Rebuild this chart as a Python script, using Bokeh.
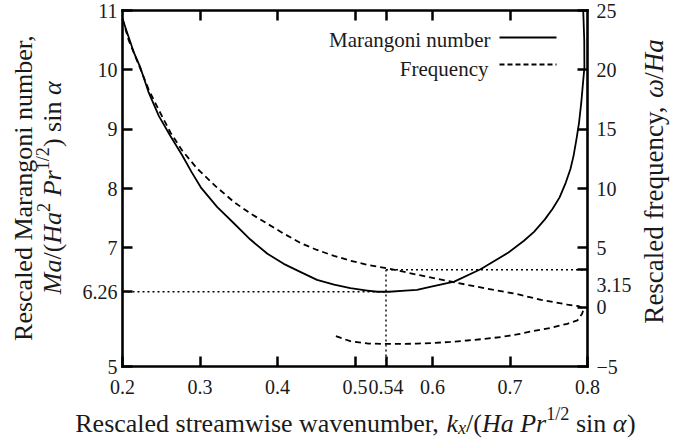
import math
from bokeh.plotting import figure
from bokeh.models import Range1d, LinearAxis, FixedTicker, Label, Arrow
from bokeh.embed import file_html
from bokeh.resources import INLINE

# ---------------- data ----------------
k_ma = [0.200, 0.208, 0.215, 0.223, 0.234, 0.247, 0.262, 0.277, 0.289, 0.301,
        0.322, 0.344, 0.365, 0.387, 0.408, 0.430, 0.451, 0.473, 0.494, 0.516,
        0.529, 0.544, 0.565, 0.580, 0.597, 0.628, 0.662, 0.698, 0.718, 0.731,
        0.745, 0.755, 0.764, 0.772, 0.778, 0.782, 0.786, 0.789, 0.792, 0.794,
        0.796, 0.7958, 0.7945]
ma = [10.86, 10.55, 10.28, 10.04, 9.61, 9.22, 8.88, 8.56, 8.28, 8.02,
      7.69, 7.41, 7.14, 6.90, 6.73, 6.59, 6.46, 6.38, 6.32, 6.28,
      6.26, 6.26, 6.28, 6.29, 6.34, 6.43, 6.64, 6.92, 7.12, 7.27,
      7.48, 7.66, 7.85, 8.10, 8.33, 8.55, 8.85, 9.10, 9.45, 9.75,
      10.04, 10.50, 11.00]

k_freq = [0.200, 0.208, 0.223, 0.234, 0.247, 0.262, 0.277, 0.296, 0.320, 0.344,
          0.365, 0.387, 0.408, 0.430, 0.451, 0.473, 0.494, 0.516, 0.544, 0.585,
          0.628, 0.671, 0.709, 0.740, 0.774, 0.789, 0.795, 0.793, 0.787, 0.774,
          0.752, 0.731, 0.709, 0.688, 0.666, 0.645, 0.623, 0.600, 0.580, 0.560,
          0.537, 0.516, 0.494, 0.473]
freq = [24.3, 22.5, 20.1, 18.3, 16.6, 14.7, 13.2, 11.7, 10.2, 8.85,
        7.90, 7.03, 6.20, 5.40, 4.82, 4.32, 3.92, 3.57, 3.25, 2.67,
        2.10, 1.55, 1.10, 0.62, 0.22, 0.08, -0.15, -0.56, -1.12, -1.40,
        -1.75, -2.00, -2.30, -2.52, -2.68, -2.81, -2.93, -3.02, -3.07, -3.10,
        -3.10, -3.06, -2.87, -2.39]

k_crit = 0.54
ma_crit = 6.26
freq_crit = 3.15

x_ticks = [0.2, 0.3, 0.4, 0.5, 0.54, 0.6, 0.7, 0.8]
top_ticks = [0.3, 0.4, 0.5, 0.54, 0.6, 0.7]
ma_ticks = [5, 6.26, 7, 8, 9, 10, 11]
freq_ticks = [-5, 0, 3.15, 5, 10, 15, 20, 25]

# ---------------- layout ----------------
FONT = "Liberation Serif"
TXT = "#1a1a1a"
W, H = 675, 441
FL, FR, FT, FB = 122, 587, 10, 366       # pixel box of the plotting area

x0, x1 = x_ticks[0], x_ticks[-1]
m0, m1 = ma_ticks[0], ma_ticks[-1]
f0, f1 = freq_ticks[0], freq_ticks[-1]
ux = (FR - FL) / (x1 - x0)
um = (FB - FT) / (m1 - m0)
uf = (FB - FT) / (f1 - f0)

# the frame spans the whole canvas so that texts outside the box are not clipped
p = figure(width=W, height=H,
           x_range=Range1d(x0 - FL / ux, x1 + (W - FR) / ux),
           y_range=Range1d(m0 - (H - FB) / um, m1 + FT / um),
           output_backend="svg", toolbar_location=None,
           x_axis_location=None, y_axis_location=None,
           min_border=0, min_border_left=0, min_border_right=0,
           min_border_top=0, min_border_bottom=0)
p.extra_y_ranges = {"freq": Range1d(f0 - (H - FB) / uf, f1 + FT / uf)}
p.background_fill_color = "white"
p.border_fill_color = "white"
p.outline_line_color = None
p.xgrid.visible = False
p.ygrid.visible = False


def style_axis(ax, ticks, overrides, standoff, size="20px"):
    ax.ticker = FixedTicker(ticks=ticks)
    ax.major_label_overrides = overrides
    ax.major_tick_in = 10
    ax.major_tick_out = 0
    ax.major_tick_line_width = 2.5
    ax.major_tick_line_color = "black"
    ax.minor_tick_line_color = None
    ax.axis_line_color = "black"
    ax.axis_line_width = 2.6
    ax.axis_line_cap = "square"
    ax.major_label_text_font = FONT
    ax.major_label_text_font_size = size
    ax.major_label_text_color = TXT
    ax.major_label_standoff = standoff


def fmt(t):
    return f"{t:g}".replace("-", "\u2212")


left = LinearAxis(fixed_location=x0, bounds=(m0, m1))
style_axis(left, ma_ticks, {t: fmt(t) for t in ma_ticks}, 5)
p.add_layout(left, "left")

right_over = {t: fmt(t) for t in freq_ticks}
right_over[freq_crit] = ""
right = LinearAxis(y_range_name="freq", fixed_location=x1, bounds=(f0, f1))
style_axis(right, freq_ticks, right_over, 9)
p.add_layout(right, "right")

bottom = LinearAxis(fixed_location=m0, bounds=(x0, x1))
style_axis(bottom, x_ticks, {t: fmt(t) for t in x_ticks}, 13)
p.add_layout(bottom, "below")

top = LinearAxis(fixed_location=m1, bounds=(x0, x1))
style_axis(top, top_ticks, {t: "" for t in top_ticks}, 0, size="0px")
p.add_layout(top, "above")

# ---------------- curves ----------------
p.line(k_ma, ma, line_color="black", line_width=1.8, line_join="round")
p.line(k_freq, freq, y_range_name="freq", line_color="black", line_width=1.8,
       line_dash="6 4", line_join="round")

# critical-point guide lines
dot = dict(line_color="black", line_width=1.4, line_dash="2 3")
p.line([x0, k_crit], [ma_crit, ma_crit], **dot)
p.line([k_crit, k_crit], [f0, freq_crit], y_range_name="freq", **dot)
p.line([k_crit, x1], [freq_crit, freq_crit], y_range_name="freq", **dot)

# label for the 3.15 tick (shifted below its tick as in the reference)
p.add_layout(Label(x=x1, y=freq_crit, y_range_name="freq", text=fmt(freq_crit),
                   x_offset=9, y_offset=-15, text_font=FONT, text_font_size="20px",
                   text_color=TXT, text_align="left", text_baseline="middle"))


# ---------------- legend (label left, sample right) ----------------
def sx(X):
    return X


def sy(Y):
    return H - Y


p.add_layout(Label(x=sx(490), y=sy(39), x_units="screen", y_units="screen",
                   text="Marangoni number", text_font=FONT, text_font_size="21px",
                   text_color=TXT, text_align="right", text_baseline="alphabetic"))
p.add_layout(Label(x=sx(488), y=sy(68), x_units="screen", y_units="screen",
                   text="Frequency", text_font=FONT, text_font_size="21px",
                   text_color=TXT, text_align="right", text_baseline="alphabetic"))
p.add_layout(Arrow(x_start=sx(499), y_start=sy(37), x_end=sx(556), y_end=sy(37),
                   start_units="screen", end_units="screen", end=None,
                   line_color="black", line_width=1.8))
p.add_layout(Arrow(x_start=sx(499), y_start=sy(64), x_end=sx(556), y_end=sy(64),
                   start_units="screen", end_units="screen", end=None,
                   line_color="black", line_width=1.8, line_dash="5 3"))

# ---------------- rich-text axis titles ----------------
REG = {" ": .25, ",": .25, ".": .25, "/": .278, "(": .333, ")": .333,
       "R": .667, "M": .889, "F": .556, "H": .722, "P": .556,
       "a": .444, "b": .5, "c": .444, "d": .5, "e": .444, "f": .333, "g": .5,
       "i": .278, "l": .278, "m": .778, "n": .5, "o": .5, "q": .5, "r": .333,
       "s": .389, "t": .278, "u": .5, "v": .5, "w": .722, "y": .5, "x": .5,
       "k": .5, "α": .55, "ω": .69}
for d in "0123456789":
    REG[d] = .5
ITA = {"M": .833, "a": .5, "H": .722, "P": .611, "r": .389, "k": .444,
       "x": .444, "α": .55, "ω": .67}

SUP = (0.7, 0.36)
SUB = (0.7, -0.16)
NRM = (1.0, 0.0)
ROT_FIX = 10   # rotated text lands this many px right of its anchor


def seg_width(t, size, italic):
    tbl = ITA if italic else REG
    return sum(tbl.get(c, REG.get(c, .5)) for c in t) * size


def rich_label(segments, cx, cy, size, angle=0.0):
    widths = [seg_width(t, size * st[0], it) for t, it, st in segments]
    pos = -sum(widths) / 2
    for (t, it, st), w in zip(segments, widths):
        fs = size * st[0]
        lead = (len(t) - len(t.lstrip(" "))) * REG[" "] * fs
        s = t.strip(" ")
        if s:
            if angle == 0:
                x, y = cx + pos + lead, cy + st[1] * size
            else:
                x, y = cx - ROT_FIX - st[1] * size, cy + pos + lead
            p.add_layout(Label(x=x, y=y, x_units="screen", y_units="screen", text=s,
                               angle=angle, text_font=FONT,
                               text_font_size=f"{fs:.1f}px",
                               text_font_style="italic" if it else "normal",
                               text_color=TXT, text_align="left",
                               text_baseline="alphabetic"))
        pos += w


TS = 26
rich_label([("Rescaled streamwise wavenumber, ", False, NRM), ("k", True, NRM),
            ("x", True, SUB), ("/(", False, NRM), ("Ha", True, NRM), (" ", False, NRM),
            ("Pr", True, NRM), ("1/2", False, SUP), (" sin ", False, NRM),
            ("α", True, NRM), (")", False, NRM)],
           sx(355), sy(423), TS)

rich_label([("Rescaled Marangoni number,", False, NRM)], sx(33), sy(187), TS, math.pi / 2)
rich_label([("Ma", True, NRM), ("/(", False, NRM), ("Ha", True, NRM), ("2", False, SUP),
            (" ", False, NRM), ("Pr", True, NRM), ("1/2", False, SUP),
            (") sin ", False, NRM), ("α", True, NRM)],
           sx(62), sy(187), TS, math.pi / 2)
rich_label([("Rescaled frequency, ", False, NRM), ("ω", True, NRM), ("/", False, NRM),
            ("Ha", True, NRM)],
           sx(663), sy(181), 27, math.pi / 2)

open("out.html", "w").write(file_html(p, INLINE))
